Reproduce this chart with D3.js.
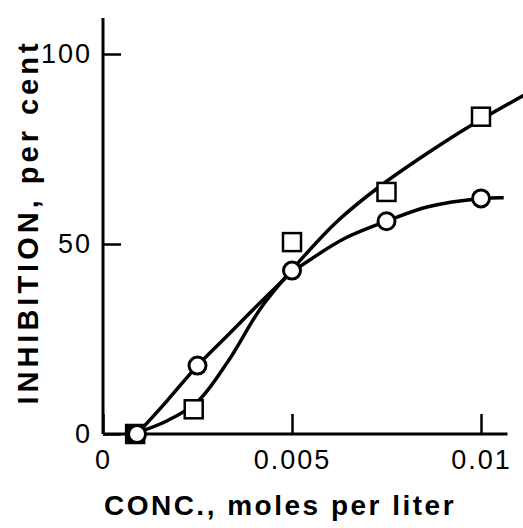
<!DOCTYPE html>
<html>
<head>
<meta charset="utf-8">
<script src="https://cdn.jsdelivr.net/npm/d3@7"></script>
<style>
  body { margin: 0; background: #fff; }
  .tick text { font-family: "Liberation Sans", Arial, sans-serif; font-size: 27px; letter-spacing: 2px; fill: #000; }
  .tick line { stroke: #000; stroke-width: 2.5px; }
</style>
</head>
<body>
<div id="chart"></div>
<script>
// measured points (open circles and open squares)
let circX = [0.0009, 0.0025, 0.005, 0.0075, 0.01];
let circY = [0, 18, 43, 56, 62];
let sqX = [0.00085, 0.0024, 0.005, 0.0075, 0.01];
let sqY = [0, 6.5, 50.5, 63.7, 83.5];

// hand drawn curves
let circFitX = [0.0009, 0.0017, 0.0025, 0.0033, 0.0042, 0.005, 0.0055, 0.0064, 0.0075, 0.0086, 0.01, 0.0106];
let circFitY = [0, 8.8, 18, 26, 35, 42.5, 46, 51.5, 56, 59.8, 62, 62.2];
let sqFitX = [0.0008, 0.0017, 0.0025, 0.0033, 0.0042, 0.0052, 0.0062, 0.0073, 0.0086, 0.0097, 0.0112];
let sqFitY = [0, 3.5, 8.5, 19, 33.5, 45.5, 56, 65, 74, 81, 89.5];

let xTicks = [0, 0.005, 0.01];
let xTickLabels = ["0", "0.005", "0.01"];
let yTicks = [0, 50, 100];
let xAxisMax = 0.0107, yAxisMax = 109.5;

let width = 523, height = 528;

let x = d3.scaleLinear().domain([0, 0.01]).range([103, 481]);
let y = d3.scaleLinear().domain([0, 100]).range([434, 54]);

let svg = d3.select("#chart").append("svg")
    .attr("width", width)
    .attr("height", height);

// axes ticks + labels
svg.append("g")
    .attr("transform", "translate(0," + y(0) + ")")
    .call(d3.axisBottom(x).tickValues(xTicks).tickSize(-20).tickPadding(16)
        .tickFormat((d, i) => xTickLabels[i]))
    .call(g => g.select(".domain").remove());

svg.append("g")
    .attr("transform", "translate(" + x(0) + ",0)")
    .call(d3.axisLeft(y).tickValues(yTicks).tickSize(-18).tickPadding(11))
    .call(g => g.select(".domain").remove());

// axis lines
svg.append("line")
    .attr("x1", x(0)).attr("x2", x(xAxisMax))
    .attr("y1", y(0)).attr("y2", y(0))
    .attr("stroke", "black").attr("stroke-width", 3);
svg.append("line")
    .attr("x1", x(0)).attr("x2", x(0))
    .attr("y1", y(0)).attr("y2", y(yAxisMax))
    .attr("stroke", "black").attr("stroke-width", 3);

// curves
let line = d3.line()
    .x(d => x(d[0]))
    .y(d => y(d[1]))
    .curve(d3.curveCatmullRom.alpha(0.5));

svg.append("path")
    .datum(d3.zip(sqFitX, sqFitY))
    .attr("d", line)
    .attr("fill", "none").attr("stroke", "black").attr("stroke-width", 3.5);
svg.append("path")
    .datum(d3.zip(circFitX, circFitY))
    .attr("d", line)
    .attr("fill", "none").attr("stroke", "black").attr("stroke-width", 3.5);

// markers
let sq = 18;
svg.selectAll(".sq")
    .data(d3.zip(sqX, sqY))
    .join("rect")
    .attr("class", "sq")
    .attr("x", d => x(d[0]) - sq / 2)
    .attr("y", d => y(d[1]) - sq / 2)
    .attr("width", sq).attr("height", sq)
    .attr("fill", (d, i) => i === 0 ? "black" : "white")
    .attr("stroke", "black").attr("stroke-width", 2.5);

svg.selectAll(".circ")
    .data(d3.zip(circX, circY))
    .join("circle")
    .attr("class", "circ")
    .attr("cx", d => x(d[0]))
    .attr("cy", d => y(d[1]))
    .attr("r", 8.5)
    .attr("fill", "white")
    .attr("stroke", "black").attr("stroke-width", 3);

// titles
svg.append("text")
    .attr("x", 280).attr("y", 515)
    .attr("text-anchor", "middle")
    .style("font-family", "Liberation Sans, Arial, sans-serif")
    .style("font-weight", "bold")
    .style("font-size", "28px")
    .style("letter-spacing", "2.5px")
    .text("CONC., moles per liter");

svg.append("text")
    .attr("transform", "translate(38,222) rotate(-90)")
    .attr("text-anchor", "middle")
    .style("font-family", "Liberation Sans, Arial, sans-serif")
    .style("font-weight", "bold")
    .style("font-size", "29px")
    .style("letter-spacing", "4px")
    .text("INHIBITION, per cent");
</script>
</body>
</html>
